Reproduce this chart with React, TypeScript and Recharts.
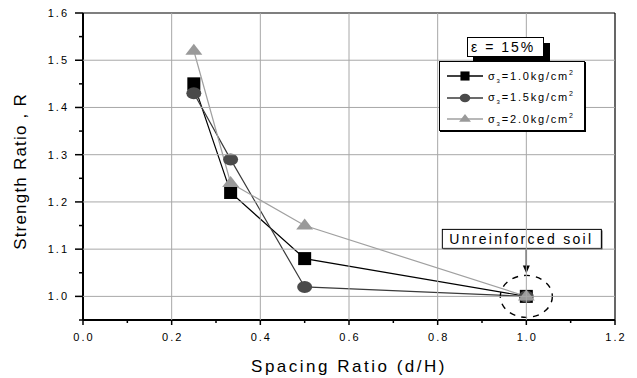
import React from "react";
import { LineChart, Line, XAxis, YAxis, ReferenceLine, ReferenceDot, Legend, Label } from "recharts";

const FONT = "'Liberation Sans', Arial, sans-serif";

// spacing ratio d/H
const spacing = [0.25, 0.333, 0.5, 1.0];
// strength ratio R for each confining pressure
const sigma10 = [1.45, 1.22, 1.08, 1.0];
const sigma15 = [1.43, 1.29, 1.02, 1.0];
const sigma20 = [1.52, 1.24, 1.15, 1.0];
const pressures = ["1.0", "1.5", "2.0"];

const xTicks = [0, 0.1, 0.2, 0.3, 0.4, 0.5, 0.6, 0.7, 0.8, 0.9, 1.0, 1.1, 1.2];
const xMajor = [0, 0.2, 0.4, 0.6, 0.8, 1.0, 1.2];
const yTicks = [0.95, 1.0, 1.05, 1.1, 1.15, 1.2, 1.25, 1.3, 1.35, 1.4, 1.45, 1.5, 1.55, 1.6];
const yMajor = [1.0, 1.1, 1.2, 1.3, 1.4, 1.5, 1.6];
const xGrid = [0.2, 0.4, 0.6, 0.8, 1.0];
const yGrid = [1.0, 1.1, 1.2, 1.3, 1.4, 1.5];

const W = 637;
const H = 378;
const M = { top: 13, right: 22, bottom: 0, left: 0 };
const Y_AXIS_W = 83;
const X_AXIS_H = 58;
const PLOT_W = W - M.left - M.right - Y_AXIS_W;
const PLOT_H = H - M.top - M.bottom - X_AXIS_H;

const data = spacing.map((x, i) => ({ x, s10: sigma10[i], s15: sigma15[i], s20: sigma20[i] }));

const marker = (shape: string, cx: number, cy: number, fill: string, k?: string, scale = 1) => {
  if (shape === "square") {
    const h = 6.5 * scale;
    return <rect key={k} x={cx - h} y={cy - h} width={h * 2} height={h * 2} fill={fill} />;
  }
  if (shape === "circle") {
    return <ellipse key={k} cx={cx} cy={cy} rx={7.5 * scale} ry={6 * scale} fill={fill} />;
  }
  return (
    <polygon
      key={k}
      points={`${cx},${cy - 7 * scale} ${cx - 8.5 * scale},${cy + 4 * scale} ${cx + 8.5 * scale},${cy + 4 * scale}`}
      fill={fill}
    />
  );
};

const series = [
  { key: "s10", p: pressures[0], line: "#000000", fill: "#000000", shape: "square" },
  { key: "s15", p: pressures[1], line: "#3a3a3a", fill: "#4a4a4a", shape: "circle" },
  { key: "s20", p: pressures[2], line: "#a0a0a0", fill: "#9a9a9a", shape: "triangle" },
];

// grid drawn along with the ticks
const XTick = (props: any) => {
  const { x, y, payload } = props;
  const major = xMajor.includes(payload.value);
  const grid = xGrid.includes(payload.value);
  return (
    <g>
      {grid && <line x1={x} x2={x} y1={y} y2={y - PLOT_H} stroke="#a8a8a8" strokeWidth={1} />}
      <line x1={x} x2={x} y1={y} y2={y + (major ? 5 : 3)} stroke="#000" strokeWidth={1.5} />
      {major && (
        <text x={x + 1} y={y + 21} textAnchor="middle" fontSize={11} letterSpacing={2} fontFamily={FONT} fill="#000">
          {payload.value.toFixed(1)}
        </text>
      )}
    </g>
  );
};

const YTick = (props: any) => {
  const { x, y, payload } = props;
  const major = yMajor.includes(payload.value);
  const grid = yGrid.includes(payload.value);
  return (
    <g>
      {grid && <line x1={x} x2={x + PLOT_W} y1={y} y2={y} stroke="#a8a8a8" strokeWidth={1} />}
      <line x1={x - (major ? 8 : 4)} x2={x} y1={y} y2={y} stroke="#000" strokeWidth={1.5} />
      {major && (
        <text x={x - 14} y={y + 4} textAnchor="end" fontSize={11} letterSpacing={2} fontFamily={FONT} fill="#000">
          {payload.value.toFixed(1)}
        </text>
      )}
    </g>
  );
};

const SoilNote = (props: any) => {
  const { cx, cy } = props;
  return (
    <g>
      <ellipse cx={cx} cy={cy} rx={26} ry={21} fill="none" stroke="#000" strokeWidth={1.4} strokeDasharray="6 6" />
      <line x1={cx} x2={cx} y1={cy - 48} y2={cy - 30} stroke="#000" strokeWidth={1.4} />
      <path d={`M${cx - 3.5},${cy - 31} L${cx + 3.5},${cy - 31} L${cx},${cy - 23} Z`} fill="#000" />
      <rect x={cx - 84} y={cy - 67} width={159} height={19} fill="#fff" stroke="#000" strokeWidth={1} />
      <line x1={cx - 83} x2={cx + 76} y1={cy - 47.5} y2={cy - 47.5} stroke="#000" strokeWidth={1} />
      <line x1={cx + 75.5} x2={cx + 75.5} y1={cy - 66} y2={cy - 47} stroke="#000" strokeWidth={1} />
      <text x={cx - 5} y={cy - 52} textAnchor="middle" fontSize={14} letterSpacing={2.3} fontFamily={FONT} fill="#000">
        Unreinforced soil
      </text>
    </g>
  );
};

const LegendBox = () => (
  <div style={{ position: "relative", width: 160, height: 100, fontFamily: FONT, color: "#000" }}>
    <div
      style={{
        position: "absolute",
        left: 28,
        top: 0,
        width: 72,
        height: 18,
        border: "1px solid #000",
        background: "#fff",
        boxShadow: "6px 6px 0 #000",
        fontSize: 14,
        letterSpacing: 2,
        lineHeight: "18px",
        paddingLeft: 3,
      }}
    >
      ε = 15%
    </div>
    <div
      style={{
        position: "absolute",
        left: 0,
        top: 24,
        width: 144,
        height: 68,
        border: "1px solid #000",
        background: "#fff",
        boxShadow: "1px 1px 0 #000",
      }}
    >
      {series.map((s, i) => (
        <div
          key={s.key}
          style={{ position: "absolute", left: 7, top: 7 + i * 21.5, height: 14, display: "flex", alignItems: "center" }}
        >
          <svg width={36} height={14}>
            <line x1={0} x2={36} y1={7} y2={7} stroke={s.line} strokeWidth={1.3} />
            {marker(s.shape, 18, 7, s.fill, undefined, 0.7)}
          </svg>
          <span style={{ marginLeft: 5, fontSize: 11, letterSpacing: 1.8, whiteSpace: "nowrap" }}>
            σ<span style={{ fontSize: 6, verticalAlign: -3 }}>3</span>={s.p}kg/cm
            <span style={{ fontSize: 7, verticalAlign: 5 }}>2</span>
          </span>
        </div>
      ))}
    </div>
  </div>
);

export default function App() {
  return (
    <div style={{ position: "absolute", left: 0, top: 0, background: "#fff" }}>
      <LineChart width={W} height={H} data={data} margin={M}>
        <XAxis
          type="number"
          dataKey="x"
          domain={[0, 1.2]}
          ticks={xTicks}
          interval={0}
          tickSize={0}
          tickMargin={0}
          tick={XTick}
          tickLine={false}
          axisLine={{ stroke: "#000", strokeWidth: 2 }}
          height={X_AXIS_H}
        >
          <Label
            content={(p: any) => {
              const vb = p.viewBox;
              return (
                <text x={vb.x + vb.width / 2} y={vb.y + 52} textAnchor="middle" fontSize={17} letterSpacing={2.5} fontFamily={FONT} fill="#000">
                  Spacing Ratio (d/H)
                </text>
              );
            }}
          />
        </XAxis>
        <YAxis
          type="number"
          domain={[0.95, 1.6]}
          ticks={yTicks}
          interval={0}
          tickSize={0}
          tickMargin={0}
          tick={YTick}
          tickLine={false}
          axisLine={{ stroke: "#000", strokeWidth: 2 }}
          width={Y_AXIS_W}
        >
          <Label
            content={(p: any) => {
              const vb = p.viewBox;
              const cy = vb.y + vb.height / 2 + 5;
              return (
                <text x={26} y={cy} transform={`rotate(-90, 26, ${cy})`} textAnchor="middle" fontSize={17} letterSpacing={1.2} fontFamily={FONT} fill="#000">
                  Strength Ratio , R
                </text>
              );
            }}
          />
        </YAxis>
        <ReferenceLine y={1.6} stroke="#000" strokeWidth={1.2} />
        <ReferenceLine x={1.2} stroke="#000" strokeWidth={1.2} />
        {series.map((s) => (
          <Line
            key={s.key}
            dataKey={s.key}
            stroke={s.line}
            strokeWidth={1.2}
            isAnimationActive={false}
            dot={(p: any) => marker(s.shape, p.cx, p.cy, s.fill, `${s.key}-${p.index}`)}
            activeDot={false}
          />
        ))}
        <ReferenceDot x={spacing[3]} y={sigma10[3]} shape={SoilNote} />
        <Legend
          layout="horizontal"
          verticalAlign="middle"
          align="center"
          content={LegendBox}
          wrapperStyle={{ left: 439, top: 37, width: 160, height: 100 }}
        />
      </LineChart>
    </div>
  );
}
